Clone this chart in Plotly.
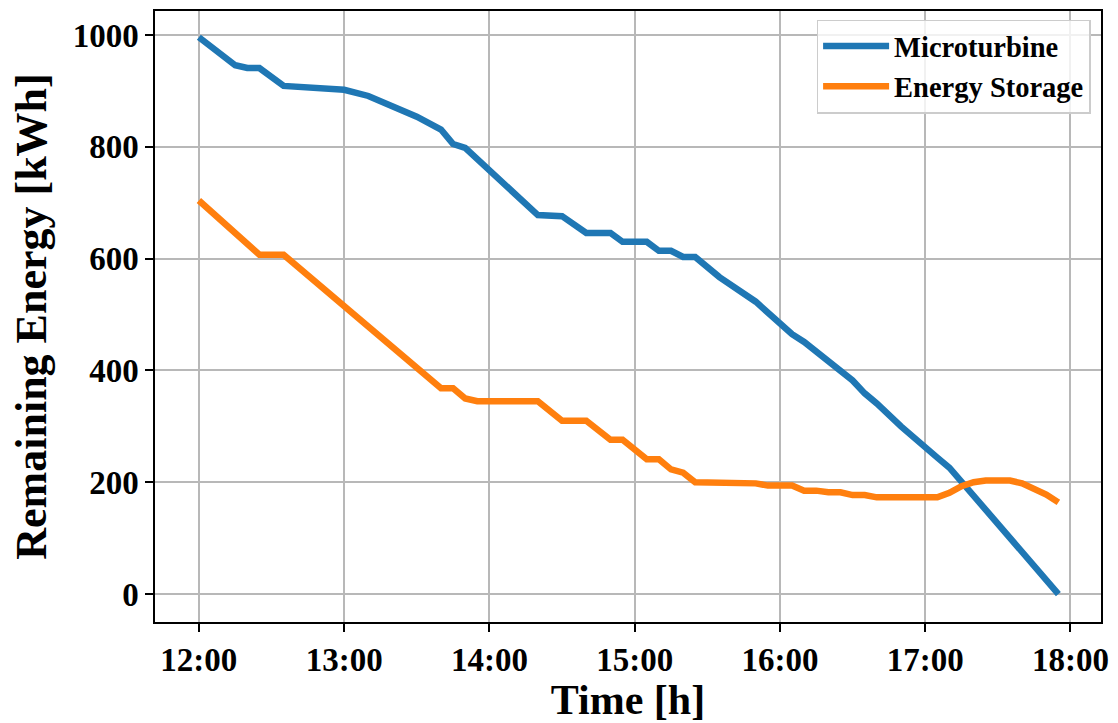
import plotly.graph_objects as go

# Time in minutes after 12:00 and remaining energy [kWh] (vertices)
mt_minutes = [0, 15, 20, 25, 35, 50, 60, 70, 90, 100, 105, 110, 140, 150, 160, 170, 175,
              185, 190, 195, 200, 205, 215, 230, 235, 245, 250, 255, 260, 270, 275, 280,
              290, 300, 305, 310, 355]
mt_energy = [996, 946, 941, 941, 909, 904, 902, 891, 854, 831, 805, 798, 678, 676, 646, 646,
             630, 630, 614, 614, 603, 603, 567, 523, 504, 465, 451, 433, 416, 382, 359, 341,
             300, 265, 244, 226, 0]

es_minutes = [0, 25, 35, 100, 105, 110, 115, 140, 150, 160, 170, 175, 185, 190, 195, 200,
              205, 230, 235, 245, 250, 255, 260, 265, 270, 275, 280, 305, 310, 315, 320,
              325, 330, 335, 340, 345, 350, 355]
es_energy = [704, 607, 607, 368, 368, 350, 345, 345, 310, 310, 276, 276, 241, 241, 223, 217,
             200, 198, 194, 194, 185, 185, 182, 182, 177, 177, 173, 173, 181, 193, 200,
             203, 203, 203, 198, 189, 178, 164]

tick_hours = [0, 1, 2, 3, 4, 5, 6]
tick_labels = ["12:00", "13:00", "14:00", "15:00", "16:00", "17:00", "18:00"]
y_ticks = [0, 200, 400, 600, 800, 1000]

FONT = "Liberation Serif, Times New Roman, serif"

fig = go.Figure()
fig.add_trace(go.Scatter(
    x=[m / 60 for m in mt_minutes], y=mt_energy, mode="lines", name="Microturbine",
    line=dict(color="#1f77b4", width=6.5)))
fig.add_trace(go.Scatter(
    x=[m / 60 for m in es_minutes], y=es_energy, mode="lines", name="Energy Storage",
    line=dict(color="#ff7f0e", width=6.5)))

axis_common = dict(
    showline=True, linecolor="black", linewidth=1.5, mirror=True,
    showgrid=True, gridcolor="#b8b8b8", gridwidth=1.5,
    ticks="outside", ticklen=8, tickwidth=1.5, tickcolor="black",
    zeroline=False,
    tickfont=dict(family=FONT, size=33, color="black", weight="bold"),
)

fig.update_layout(
    width=1118, height=723,
    margin=dict(l=155, r=13, t=9, b=97),
    paper_bgcolor="white", plot_bgcolor="white",
    xaxis=dict(range=[-0.302, 6.21], tickvals=tick_hours, ticktext=tick_labels,
               title=dict(text="Time [h]", standoff=6,
                          font=dict(family=FONT, size=42, color="black", weight="bold")),
               **axis_common),
    yaxis=dict(range=[-50, 1043], tickvals=y_ticks,
               title=dict(text="Remaining Energy [kWh]", standoff=12,
                          font=dict(family=FONT, size=44, color="black", weight="bold")),
               **axis_common),
    legend=dict(x=0.989, y=0.986, xanchor="right", yanchor="top",
                bgcolor="rgba(255,255,255,0.8)", bordercolor="#cccccc", borderwidth=1.5,
                font=dict(family=FONT, size=28.5, color="black", weight="bold"),
                itemwidth=66, tracegroupgap=0),
    showlegend=True,
)

fig.write_html("out.html")
